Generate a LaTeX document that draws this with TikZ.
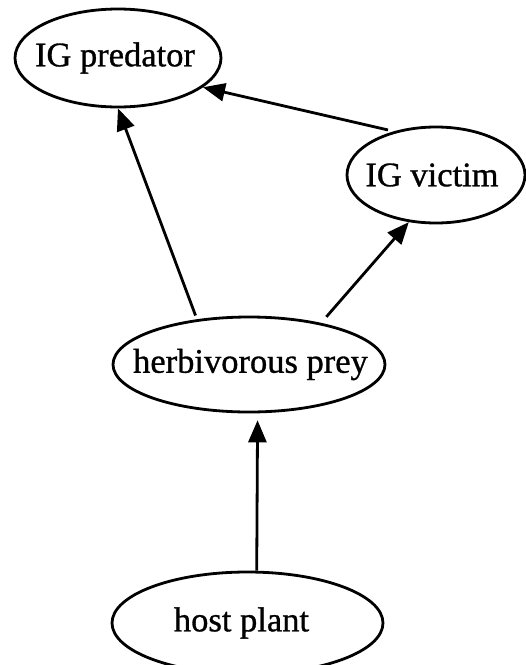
\documentclass[tikz,border=0pt]{standalone}
\usepackage{fontspec}
\setmainfont{Liberation Serif}
\newfontfamily\ovalfont{Liberation Serif}[FakeBold=0.9]
\usetikzlibrary{shapes.geometric,arrows.meta}
\newcommand{\ovaltext}[2][0pt]{\makebox[0pt]{#2\hspace*{#1}}}
\begin{document}
\begin{tikzpicture}[x=1pt,y=-1pt,
  oval/.style={ellipse,draw,line width=2.8pt,inner sep=0pt,
    font=\ovalfont\fontsize{34.5}{40}\selectfont},
  link/.style={line width=2.8pt,-{Triangle[length=22pt,width=18pt]}}]
\useasboundingbox (0,0) rectangle (526,665);
\node[oval,minimum width=206pt,minimum height=98pt] (pred) at (118,58) {\ovaltext[6pt]{IG predator}};
\node[oval,minimum width=178pt,minimum height=96pt] (victim) at (436,175) {\ovaltext[8pt]{IG victim}};
\node[oval,minimum width=272pt,minimum height=95pt] (herb) at (249,364.5) {\ovaltext[-3pt]{herbivorous prey}};
\node[oval,minimum width=271pt,minimum height=102pt] (host) at (247.5,623) {\ovaltext[12pt]{host plant}};
\draw[link,shorten <=6pt] (victim.134) -- (pred.-19.6);
\draw[link,shorten <=4pt] (herb.139) -- (pred.south);
\draw[link,shorten <=8pt] (herb.30) -- (victim.-120.8);
\draw[link,shorten >=7pt] (host.80) -- (herb.-80);
\end{tikzpicture}
\end{document}
